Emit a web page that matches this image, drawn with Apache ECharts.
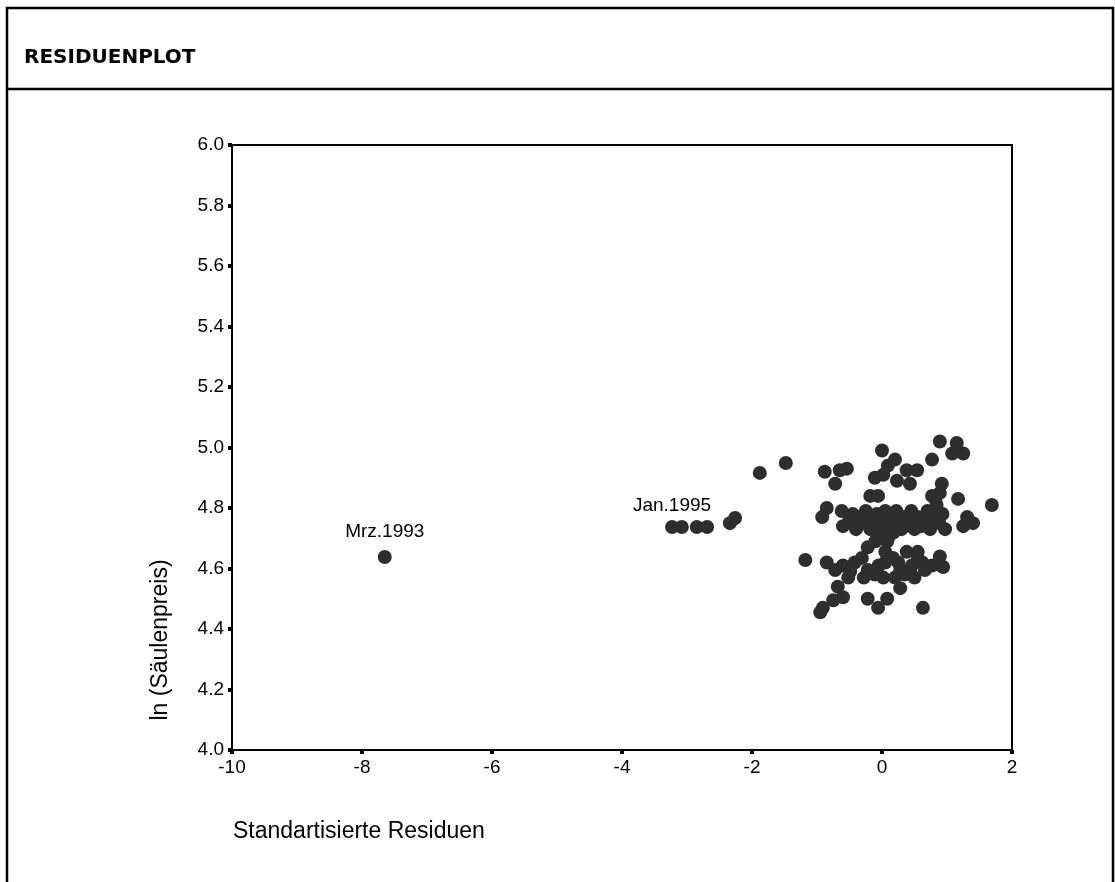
<!DOCTYPE html>
<html>
<head>
<meta charset="utf-8">
<script src="https://cdn.jsdelivr.net/npm/echarts@6/dist/echarts.min.js"></script>
<style>
  html, body { margin: 0; padding: 0; background: #fff; }
  #chart { width: 1115px; height: 882px; }
</style>
</head>
<body>
<div id="chart"></div>
<script>
// Standardisierte Residuen (x) und ln(Säulenpreis) (y)
var resid = [
  -3.08, -2.85, -2.69, -2.34, -2.26, -1.88, -1.48, -1.18,
  0.89, 1.15, 1.08, 1.25, 0.77, 0.0, 0.2, 0.09, -0.88, -0.65, -0.54, -0.72,
  -0.11, 0.02, 0.23, 0.38, 0.54, 0.43, 0.92, 0.89, 0.77, -0.18, -0.06, 1.17,
  1.69, -0.85, -0.92, -0.62, 1.31, 1.25, 1.40,
  -0.6, -0.5, -0.45, -0.4, -0.35, -0.3, -0.25, -0.2, -0.18, -0.12, -0.08, -0.05,
  0.0, 0.02, 0.05, 0.08, 0.1, 0.14, 0.18, 0.22, 0.25, 0.3, 0.34, 0.4, 0.45, 0.5,
  0.55, 0.6, 0.65, 0.7, 0.74, 0.8, 0.84, 0.88, 0.93, 0.97, -0.1, 0.0, 0.12, 0.82,
  -0.22, -0.85, -0.72, -0.6, -0.49, -0.42, -0.31, -0.22, -0.11, 0.02, 0.05, 0.17,
  0.28, 0.35, 0.46, 0.55, 0.66, 0.77, 0.89, 0.94, 0.2, -0.28, -0.52, 0.5, 0.05,
  0.38, 0.55, -0.05, 0.25, 0.62,
  -0.68, -0.6, -0.75, -0.91, -0.95, -0.22, -0.06, 0.08, 0.28, 0.63
];
var lnPreis = [
  4.737, 4.737, 4.737, 4.75, 4.767, 4.916, 4.949, 4.628,
  5.02, 5.015, 4.98, 4.98, 4.96, 4.99, 4.96, 4.94, 4.92, 4.925, 4.93, 4.88,
  4.90, 4.91, 4.89, 4.925, 4.925, 4.88, 4.88, 4.85, 4.84, 4.84, 4.84, 4.83,
  4.81, 4.80, 4.77, 4.79, 4.77, 4.74, 4.75,
  4.74, 4.76, 4.78, 4.73, 4.77, 4.75, 4.79, 4.77, 4.73, 4.75, 4.78, 4.71,
  4.76, 4.73, 4.79, 4.69, 4.75, 4.77, 4.72, 4.79, 4.75, 4.73, 4.77, 4.75, 4.79, 4.73,
  4.77, 4.74, 4.76, 4.79, 4.73, 4.77, 4.81, 4.75, 4.78, 4.73, 4.69, 4.70, 4.71, 4.83,
  4.67, 4.62, 4.595, 4.61, 4.59, 4.62, 4.635, 4.595, 4.58, 4.57, 4.62, 4.635,
  4.595, 4.58, 4.61, 4.635, 4.595, 4.61, 4.64, 4.605, 4.57, 4.57, 4.57, 4.57, 4.655,
  4.655, 4.655, 4.61, 4.62, 4.62,
  4.54, 4.505, 4.495, 4.47, 4.455, 4.50, 4.47, 4.50, 4.535, 4.47
];
// beschriftete Ausreißer
var labelNames = ['Mrz.1993', 'Jan.1995'];
var labelResid = [-7.65, -3.23];
var labelLn = [4.638, 4.737];
var labelDist = [9, 5];

var xTicks = { min: -10, max: 2, step: 2 };
var yTicks = { min: 4.0, max: 6.0, step: 0.2 };

var pts = [];
for (var i = 0; i < resid.length; i++) {
  pts.push([resid[i], lnPreis[i]]);
}
for (var j = 0; j < labelNames.length; j++) {
  pts.push({
    value: [labelResid[j], labelLn[j]],
    label: {
      show: true,
      position: 'top',
      distance: labelDist[j],
      formatter: labelNames[j],
      color: '#000',
      fontSize: 19,
      fontFamily: 'Liberation Sans'
    }
  });
}

var chart = echarts.init(document.getElementById('chart'));
var option = {
  backgroundColor: '#fff',
  animation: false,
  grid: {
    left: 232, right: 103, top: 145, bottom: 132,
    show: true, borderColor: '#000', borderWidth: 2
  },
  xAxis: {
    type: 'value',
    min: xTicks.min, max: xTicks.max, interval: xTicks.step,
    axisLine: { show: true, onZero: false, lineStyle: { color: '#000', width: 2 } },
    axisTick: { show: true, length: 4, lineStyle: { color: '#000', width: 4 } },
    axisLabel: { color: '#000', fontSize: 19, fontFamily: 'Liberation Sans', margin: 8 },
    splitLine: { show: false }
  },
  yAxis: {
    type: 'value',
    min: yTicks.min, max: yTicks.max, interval: yTicks.step,
    axisLine: { show: true, onZero: false, lineStyle: { color: '#000', width: 2 } },
    axisTick: { show: true, length: 4, lineStyle: { color: '#000', width: 4 } },
    axisLabel: {
      color: '#000', fontSize: 19, fontFamily: 'Liberation Sans', margin: 8,
      formatter: function (v) { return v.toFixed(1); }
    },
    splitLine: { show: false }
  },
  series: [{
    type: 'scatter',
    symbol: 'circle',
    symbolSize: 14,
    itemStyle: { color: '#2e2e2e', opacity: 1 },
    data: pts
  }],
  graphic: [
    {
      type: 'rect', silent: true,
      shape: { x: 7, y: 8, width: 1106, height: 900 },
      style: { fill: null, stroke: '#000', lineWidth: 2.5 }
    },
    {
      type: 'line', silent: true,
      shape: { x1: 7, y1: 89, x2: 1113, y2: 89 },
      style: { stroke: '#000', lineWidth: 2.5 }
    },
    {
      type: 'text', left: 24, top: 48,
      style: { text: 'RESIDUENPLOT', font: 'bold 20px "DejaVu Sans"', fill: '#000' }
    },
    {
      type: 'text', x: 161, y: 640, rotation: Math.PI / 2,
      style: {
        text: 'ln (Säulenpreis)', font: '23px "Liberation Sans"', fill: '#000',
        align: 'center', verticalAlign: 'middle'
      }
    },
    {
      type: 'text', left: 233, top: 820,
      style: { text: 'Standartisierte Residuen', font: '23px "Liberation Sans"', fill: '#000' }
    }
  ]
};
chart.setOption(option);
</script>
</body>
</html>
